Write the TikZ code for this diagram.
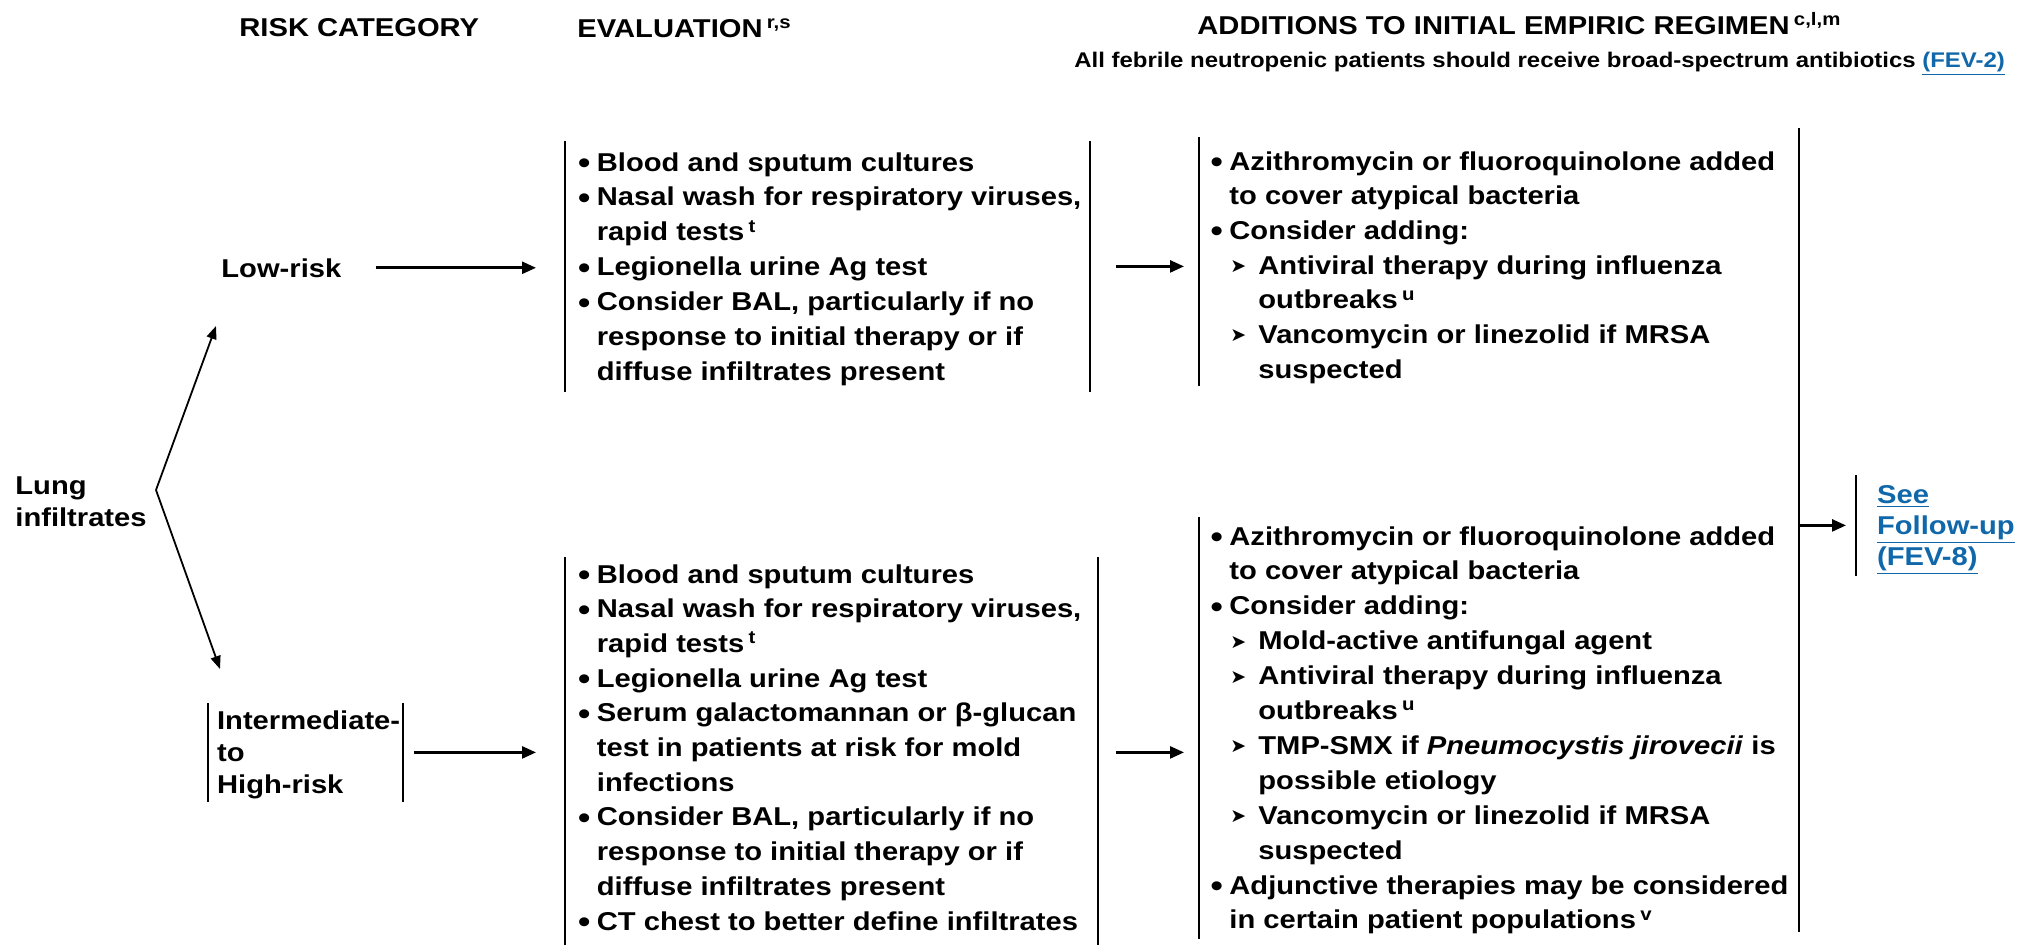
\documentclass[tikz,border=0pt]{standalone}
\usepackage{fontspec}
\setmainfont{Liberation Sans}[FakeStretch=1.13]
\newfontfamily\dejavu{DejaVu Sans}
\usetikzlibrary{arrows.meta}
\definecolor{linkblue}{RGB}{16,104,170}
\newcommand{\bul}{\makebox[0pt][r]{\raisebox{-1.2pt}{\fontsize{15.5}{15.5}\selectfont\textbullet}\hspace{3.2pt}}}
\newcommand{\subm}{\makebox[0pt][r]{\raisebox{0.8pt}{\dejavu\fontsize{9.5}{9.5}\selectfont ➤}\hspace{6pt}}}
\newcommand{\sups}[1]{\,\textsuperscript{#1}}
\newcommand{\lnk}[1]{\textcolor{linkblue}{\underline{#1}}}
\begin{document}
\begin{tikzpicture}[x=0.5pt,y=-0.5pt,
  txt/.style={anchor=base west, inner sep=0pt, font=\fontsize{12.9}{15}\selectfont\bfseries},
  subt/.style={anchor=base west, inner sep=0pt, font=\fontsize{10.6}{13}\selectfont\bfseries},
  frame/.style={anchor=north west, inner sep=0pt, draw=none},
  brk/.style={line width=1pt},
  arr/.style={line width=1.3pt, -{Triangle[length=7pt,width=6pt]}},
  darr/.style={line width=0.9pt, -{Triangle[length=6.5pt,width=5pt]}}]
\useasboundingbox (0,0) rectangle (2026,944);

% headers
\node[txt] (h1) at (239,36.5) {RISK CATEGORY};
\node[txt] (h2) at (577,37.5) {EVALUATION\sups{r,s}};
\node[txt] (h3) at (1197,34) {ADDITIONS TO INITIAL EMPIRIC REGIMEN\sups{c,l,m}};
\node[subt] (h4) at (1074,67) {All febrile neutropenic patients should receive broad-spectrum antibiotics \lnk{(FEV-2)}};

% frames
\node[frame, minimum width=262pt, minimum height=125pt] (E1) at (565,141) {};
\node[frame, minimum width=300pt, minimum height=124pt] (A1) at (1199,137) {};
\node[frame, minimum width=266pt, minimum height=193.5pt] (E2) at (565,557) {};
\node[frame, minimum width=300pt, minimum height=210.5pt] (A2) at (1199,517) {};
\node[frame, minimum width=97pt, minimum height=49pt] (I) at (207.7,703) {};
\node[frame, minimum width=80pt, minimum height=50pt] (F) at (1856,475) {};
\coordinate (bt) at (1799,128);
\coordinate (bb) at (1799,932);

\draw[brk] (E1.north west) -- (E1.south west) (E1.north east) -- (E1.south east);
\draw[brk] (E2.north west) -- (E2.south west) (E2.north east) -- (E2.south east);
\draw[brk] (A1.north west) -- (A1.south west);
\draw[brk] (A2.north west) -- (A2.south west);
\draw[brk] (I.north west) -- (I.south west) (I.north east) -- (I.south east);
\draw[brk] (F.north west) -- (F.south west);
\draw[brk] (bt) -- (bb);

% left column
\node[txt] (lung1) at (15,494) {Lung};
\node[txt] (lung2) at (15,526) {infiltrates};
\node[txt] (low) at (221,277) {Low-risk};
\node[txt] (int1) at (216.7,729.5) {Intermediate-};
\node[txt] (int2) at (216.7,761.5) {to};
\node[txt] (int3) at (216.7,793.5) {High-risk};

\coordinate (v) at (156,490);
\coordinate (lowin) at (216,326);
\coordinate (intin) at (220,669);
\draw[darr] (v) -- (lowin);
\draw[darr] (v) -- (intin);

% evaluation low
\foreach \t [count=\i from 0] in {
  {\bul Blood and sputum cultures},
  {\bul Nasal wash for respiratory viruses,},
  {rapid tests\sups{t}},
  {\bul Legionella urine Ag test},
  {\bul Consider BAL, particularly if no},
  {response to initial therapy or if},
  {diffuse infiltrates present}}
  \node[txt] (e1-\i) at (596.5,171+34.9*\i) {\t};

% evaluation high
\foreach \t [count=\i from 0] in {
  {\bul Blood and sputum cultures},
  {\bul Nasal wash for respiratory viruses,},
  {rapid tests\sups{t}},
  {\bul Legionella urine Ag test},
  {\bul Serum galactomannan or β-glucan},
  {test in patients at risk for mold},
  {infections},
  {\bul Consider BAL, particularly if no},
  {response to initial therapy or if},
  {diffuse infiltrates present},
  {\bul CT chest to better define infiltrates}}
  \node[txt] (e2-\i) at (596.5,583+34.7*\i) {\t};

% additions low
\foreach \x/\t [count=\i from 0] in {
  1229/{\bul Azithromycin or fluoroquinolone added},
  1229/{to cover atypical bacteria},
  1229/{\bul Consider adding:},
  1258/{\subm Antiviral therapy during influenza},
  1258/{outbreaks\sups{u}},
  1258/{\subm Vancomycin or linezolid if MRSA},
  1258/{suspected}}
  \node[txt] (a1-\i) at (\x,170+34.7*\i) {\t};

% additions high
\foreach \x/\t [count=\i from 0] in {
  1229/{\bul Azithromycin or fluoroquinolone added},
  1229/{to cover atypical bacteria},
  1229/{\bul Consider adding:},
  1258/{\subm Mold-active antifungal agent},
  1258/{\subm Antiviral therapy during influenza},
  1258/{outbreaks\sups{u}},
  1258/{\subm TMP-SMX if \textit{Pneumocystis jirovecii} is},
  1258/{possible etiology},
  1258/{\subm Vancomycin or linezolid if MRSA},
  1258/{suspected},
  1229/{\bul Adjunctive therapies may be considered},
  1229/{in certain patient populations\sups{v}}}
  \node[txt] (a2-\i) at (\x,545+34.9*\i) {\t};

% follow-up
\node[txt] (f1) at (1876.7,503) {\lnk{See}};
\node[txt] (f2) at (1876.7,534) {\lnk{Follow-up}};
\node[txt] (f3) at (1876.7,565) {\lnk{(FEV-8)}};

% connectors
\draw[arr, shorten <=17pt, shorten >=14.5pt] (low.east) -- (low.east -| E1.west);
\draw[arr, shorten <=5.5pt, shorten >=14.5pt] (I.east) -- (I.east -| E2.west);
\draw[arr, shorten <=13pt, shorten >=7.5pt] (E1.east) -- (E1.east -| A1.west);
\draw[arr, shorten <=9pt, shorten >=7.5pt] (E2.east |- I.east) -- (A2.west |- I.east);
\draw[arr, shorten >=5pt] (bt |- F.west) -- (F.west);
\end{tikzpicture}
\end{document}
